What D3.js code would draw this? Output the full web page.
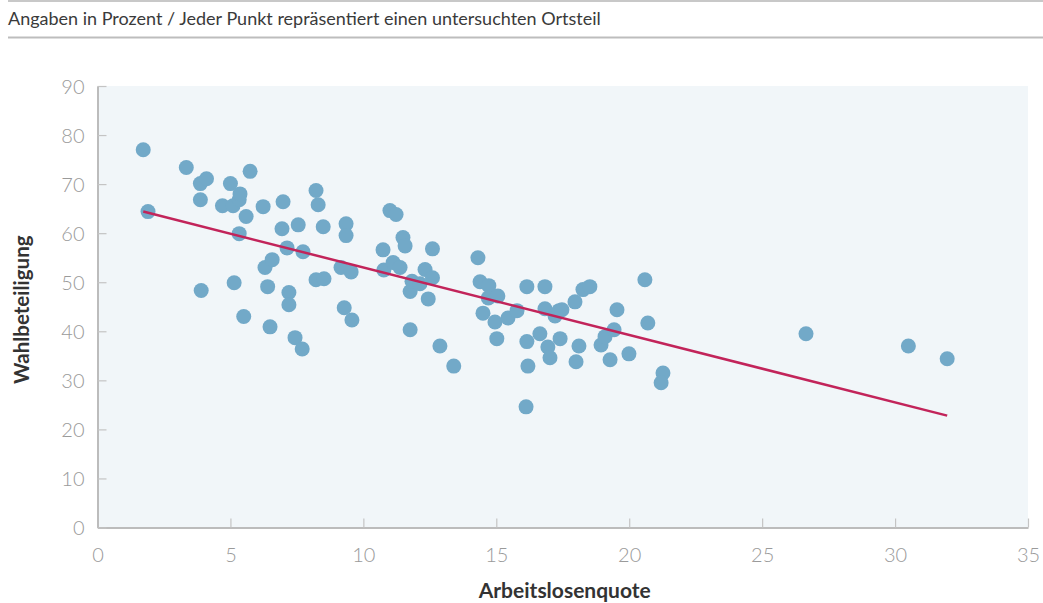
<!DOCTYPE html>
<html>
<head>
<meta charset="utf-8">
<script src="https://cdn.jsdelivr.net/npm/d3@7"></script>
<style>
  html, body { margin: 0; padding: 0; background: #fff; }
  svg { display: block; font-family: Lato, "Open Sans", sans-serif; }
</style>
</head>
<body>
<svg id="chart" width="1043" height="603"></svg>
<script>
const subtitle = "Angaben in Prozent / Jeder Punkt repräsentiert einen untersuchten Ortsteil";
const xTitle = "Arbeitslosenquote";
const yTitle = "Wahlbeteiligung";
const xTicks = [0, 5, 10, 15, 20, 25, 30, 35];
const yTicks = [0, 10, 20, 30, 40, 50, 60, 70, 80, 90];

// Arbeitslosenquote (x) and Wahlbeteiligung (y) per Ortsteil
const unemployment = [
  1.72, 1.9, 3.34, 3.87, 4.1, 3.87, 3.9, 4.7, 5.0, 5.1,
  5.33, 5.36, 5.14, 5.33, 5.59, 5.74, 5.5, 6.23, 6.3, 6.57,
  6.4, 6.49, 6.98, 6.94, 7.13, 7.2, 7.2, 7.55, 7.73, 7.43,
  7.7, 8.22, 8.3, 8.49, 8.22, 8.52, 9.16, 9.35, 9.35, 9.54,
  9.28, 9.57, 10.74, 10.77, 11.0, 11.23, 11.12, 11.38, 11.49, 11.57,
  11.76, 11.83, 12.13, 11.76, 12.32, 12.6, 12.44, 12.6, 12.88, 13.4,
  14.31, 14.39, 14.5, 14.72, 14.7, 14.95, 15.06, 15.02, 15.44, 15.78,
  16.15, 16.15, 16.19, 16.12, 16.64, 16.83, 16.83, 16.94, 17.02, 17.21,
  17.36, 17.47, 17.4, 17.96, 18.26, 18.52, 18.0, 18.11, 18.94, 19.09,
  19.28, 19.43, 19.54, 19.99, 20.59, 20.7, 21.27, 21.2, 26.65, 30.5,
  31.96
];
const turnout = [
  77.0, 64.4, 73.4, 70.1, 71.1, 66.8, 48.3, 65.6, 70.1, 65.6,
  66.8, 68.0, 49.9, 59.9, 63.4, 72.6, 43.0, 65.4, 53.0, 54.6,
  49.1, 40.9, 66.4, 60.9, 57.0, 47.9, 45.4, 61.7, 56.2, 38.7,
  36.4, 68.7, 65.8, 61.3, 50.5, 50.7, 53.0, 61.9, 59.5, 52.1,
  44.8, 42.3, 56.6, 52.5, 64.6, 63.8, 54.0, 53.0, 59.1, 57.4,
  48.1, 50.2, 49.7, 40.3, 52.6, 50.9, 46.6, 56.8, 37.0, 32.9,
  55.0, 50.1, 43.7, 49.3, 46.8, 41.9, 47.2, 38.5, 42.7, 44.2,
  49.1, 37.9, 32.9, 24.6, 39.5, 49.1, 44.6, 36.8, 34.6, 43.1,
  44.2, 44.4, 38.5, 46.0, 48.5, 49.1, 33.8, 37.0, 37.2, 38.9,
  34.2, 40.3, 44.4, 35.4, 50.5, 41.7, 31.5, 29.5, 39.5, 37.0,
  34.4
];
// Trend line endpoints
const trendX = [1.72, 31.96];
const trendY = [64.4, 22.8];

const svg = d3.select("#chart");
const pLeft = 97.5, pRight = 1028, pTop = 86, pBottom = 527.5;

const x = d3.scaleLinear().domain([0, 35]).range([pLeft, pRight]);
const y = d3.scaleLinear().domain([0, 90]).range([pBottom, pTop]);

// Header
svg.append("line").attr("x1", 8).attr("x2", 1043).attr("y1", 1).attr("y2", 1)
  .attr("stroke", "#c8c8c8").attr("stroke-width", 2);
svg.append("text").attr("x", 8).attr("y", 25).attr("font-size", 18)
  .attr("fill", "#3a3a3a").text(subtitle);
svg.append("line").attr("x1", 8).attr("x2", 1043).attr("y1", 37.5).attr("y2", 37.5)
  .attr("stroke", "#bdbdbd").attr("stroke-width", 2);

// Plot background
svg.append("rect").attr("x", pLeft).attr("y", pTop)
  .attr("width", pRight - pLeft).attr("height", pBottom - pTop)
  .attr("fill", "#f1f6f9");

// Axes
const xAxis = d3.axisBottom(x).tickValues(xTicks).tickSize(-9).tickPadding(20).tickSizeOuter(0);
const yAxis = d3.axisLeft(y).tickValues(yTicks).tickSize(-9).tickPadding(13).tickSizeOuter(0);

const gx = svg.append("g").attr("transform", `translate(0,${pBottom})`).call(xAxis);
const gy = svg.append("g").attr("transform", `translate(${pLeft},0)`).call(yAxis);

[gx, gy].forEach(g => {
  g.select(".domain").attr("stroke", "#bcbcbc").attr("stroke-width", 2);
  g.selectAll(".tick line").attr("stroke", "#c4c4c4").attr("stroke-width", 1.2);
  g.selectAll(".tick text").attr("fill", "#9a9a9a").attr("font-size", 20)
    .attr("font-weight", 300).attr("font-family", "Lato, sans-serif");
});
gx.selectAll(".tick text").attr("dy", "0.71em");
gy.selectAll(".tick text").attr("dy", "0.35em");

// Axis titles
svg.append("text").attr("x", (pLeft + pRight) / 2 + 2).attr("y", 598)
  .attr("text-anchor", "middle").attr("font-size", 21).attr("font-weight", 700)
  .attr("fill", "#333").text(xTitle);
svg.append("text").attr("transform", `translate(29,${(pTop + pBottom) / 2 + 3}) rotate(-90)`)
  .attr("text-anchor", "middle").attr("font-size", 20.5).attr("font-weight", 700)
  .attr("fill", "#333").text(yTitle);

// Points
const data = unemployment.map((u, i) => ({ u, t: turnout[i] }));
svg.append("g").selectAll("circle").data(data).join("circle")
  .attr("cx", d => x(d.u)).attr("cy", d => y(d.t)).attr("r", 7.5)
  .attr("fill", "#72a9c8");

// Trend line
svg.append("line")
  .attr("x1", x(trendX[0])).attr("y1", y(trendY[0]))
  .attr("x2", x(trendX[1])).attr("y2", y(trendY[1]))
  .attr("stroke", "#c2245a").attr("stroke-width", 2.5);
</script>
</body>
</html>
